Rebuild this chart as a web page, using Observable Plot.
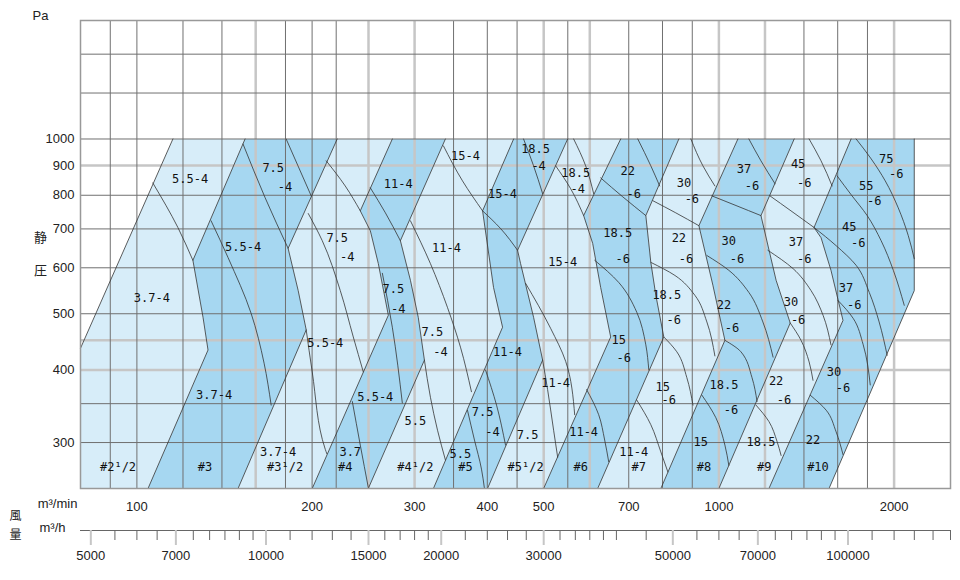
<!DOCTYPE html>
<html><head><meta charset="utf-8">
<script src="https://cdn.jsdelivr.net/npm/d3@7"></script>
<script src="https://cdn.jsdelivr.net/npm/@observablehq/plot@0.6"></script>
<style>body{margin:0;background:#fff;}</style>
</head><body><div id="chart"></div>
<script>
// Fan sizes (bands, left to right) and their shade
const fanSizes = ["#2½","#3","#3½","#4","#4½","#5","#5½","#6","#7","#8","#9","#10"];
const bandShade = ["light","dark","light","dark","light","dark","light","dark","light","dark","light","dark"];

// Band boundaries: [airflow m3/min, static pressure Pa], bottom -> top
const boundaries = [
  [[80,250],[80,436],[115.3,1000]],
  [[104.5,250],[132.5,433],[129.9,493],[124.8,618],[153.4,1000]],
  [[149.2,250],[195.4,469],[189.3,548],[181.9,648],[220.9,1000]],
  [[200.1,250],[270.4,497],[259.9,610],[251.8,695],[242,752],[274.7,1000]],
  [[249.8,250],[311.9,416],[304.4,493],[295.1,571],[283.6,668],[338.9,1000]],
  [[323.2,250],[424.9,474],[410,555],[392.6,752],[443.9,1000]],
  [[400.4,250],[497.9,416],[480.4,493],[456.3,610],[450.9,643],[549.7,1000]],
  [[499.9,250],[651.7,456],[626.4,555],[606.9,661],[585.6,738],[678,1000]],
  [[619,250],[804.2,456],[779.2,538],[763.9,613],[748.9,738],[853.5,1000]],
  [[794.8,250],[1024,450],[976.5,560],[923.9,709],[1078,1000]],
  [[1000,250],[1326,482],[1254,571],[1181,738],[1347,1000]],
  [[1219,250],[1634,487],[1558,594],[1498,676],[1457,704],[1687,1000]],
  [[1546,250],[2166,548],[2166,1000]]
];

// Motor power curves inside the bands
const powerCurves = [
  // #2 1/2
  [[106.5,840],[117.6,704],[124.8,618]],
  // #3
  [[152.2,980],[166.1,792],[181.9,648]],
  [[134.1,723],[143.4,625],[157.1,501],[165.4,411],[170.1,348]],
  [[180.5,1000],[199.3,798]],
  // #3 1/2
  [[211.5,917],[228,830],[242,752]],
  [[197,744],[208.2,668],[223.6,548],[235.4,456],[244.9,397]],
  [[195.4,469],[200.1,397],[210.7,292],[212,287]],
  // #4
  [[251.8,824],[267.3,746],[283.6,668]],
  [[264.1,587],[274.7,474],[285.8,351]],
  [[234.5,353],[242,297],[249.8,251]],
  // #4 1/2
  [[336.3,973],[362.6,847],[392.6,752]],
  [[295.1,723],[319.4,610],[341.6,513],[359.7,438],[375.7,367]],
  [[311.9,416],[319.4,359],[328.5,315],[338.9,280]],
  // #5
  [[461.7,1000],[480.4,899],[497.9,805]],
  [[392.6,752],[421.6,701],[450.9,643]],
  [[397.2,400],[414.9,348],[429.9,297]],
  [[369.8,341],[380.2,303],[390.9,270],[395.5,250]],
  // #5 1/2
  [[562.9,1000],[590.3,899],[609.3,805]],
  [[524.2,899],[556.3,821],[585.6,738]],
  [[465.5,564],[513.8,472],[545.4,414],[565.2,335]],
  [[497.9,416],[507.8,370],[520,315],[528.4,283]],
  // #6
  [[725.5,1000],[763.9,899],[791.2,830]],
  [[626.4,857],[683.6,795],[748.9,738]],
  [[611.8,618],[672.9,566],[722.6,503],[748.9,442],[757.8,400]],
  [[592.6,370],[621.5,335],[636.4,303],[646.6,278]],
  // #7
  [[895,1000],[938.7,899],[984.3,830]],
  [[769.9,783],[843.3,746],[923.9,709]],
  [[763.9,613],[840.4,582],[909.3,538],[953.5,484],[984.3,423]],
  [[804.2,456],[846.6,430],[880.9,388],[902.6,348]],
  [[722.6,355],[763.9,322],[794.8,289],[817.1,267]],
  // #8
  [[1126,1000],[1181,917],[1249,837]],
  [[972.7,798],[1070,768],[1181,738]],
  [[953.5,630],[1040,594],[1126,544],[1190,484],[1239,421]],
  [[1024,450],[1091,430],[1140,388],[1163,353]],
  [[934.9,362],[988.1,331],[1024,297],[1040,274]],
  // #9
  [[1429,1000],[1498,917],[1565,830]],
  [[1224,798],[1330,752],[1457,704]],
  [[1214,643],[1341,598],[1440,548],[1510,497],[1558,442]],
  [[1326,482],[1384,450],[1429,413],[1451,384]],
  [[1158,348],[1219,326],[1259,301],[1279,285]],
  // #10
  [[1721,1000],[1827,924],[1931,847],[2033,761],[2115,682],[2166,622]],
  [[1596,864],[1687,802],[1798,738],[1900,668],[1994,594],[2082,517]],
  [[1457,704],[1590,655],[1721,606],[1813,544],[1885,484],[1946,424]],
  [[1602,527],[1701,491],[1770,442],[1820,377]],
  [[1435,362],[1529,341],[1590,313],[1634,286]]
];

// Region labels: [text, airflow, pressure]
const labels = [
  ["5.5-4",123.4,854],["3.7-4",106.1,531],["#2¹/2",92.8,272],
  ["7.5",171.5,892],["-4",179.7,827],["5.5-4",152.2,650],["3.7-4",135.7,362],["#3",130.9,272],
  ["7.5",220.9,674],["-4",229.8,625],["5.5-4",210.7,445],["3.7-4",174.8,289],["#3¹/2",179.7,272],
  ["11-4",281.3,837],["7.5",275.8,551],["-4",281.3,509],["5.5-4",256.8,359],["3.7",232.6,289],["#4",228,272],
  ["15-4",366.9,935],["11-4",340.3,648],["7.5",321.9,465],["-4",332.3,430],["5.5",301,326],["#4¹/2",301,272],
  ["18.5",484.2,961],["-4",490,899],["15-4",424.9,805],["11-4",433.4,430],["7.5",392.6,339],["-4",408.3,313],["5.5",359.7,286],["#5",366.9,272],
  ["18.5",567.5,874],["-4",572,821],["15-4",539,613],["11-4",524.2,380],["7.5",469.2,309],["#5¹/2",465.5,272],
  ["22",697.1,881],["-6",714,805],["18.5",670,687],["-6",683.6,622],["15",672.9,450],["-6",686.3,419],["11-4",585.6,312],["#6",578.8,272],
  ["30",870.6,840],["-6",898.5,789],["22",853.5,676],["-6",877.5,620],["18.5",813.9,538],["-6",836.7,487],["15",801,374],["-6",820.3,355],["11-4",714,289],["#7",728.3,272],
  ["37",1104,888],["-6",1140,830],["30",1040,668],["-6",1074,622],["22",1020,517],["-6",1053,472],["18.5",1020,377],["-6",1049,341],["15",931,300],["#8",942.4,272],
  ["45",1368,906],["-6",1401,840],["37",1357,663],["-6",1401,622],["30",1330,523],["-6",1368,487],["22",1254,382],["-6",1294,355],["18.5",1181,300],["#9",1196,272],
  ["75",1939,924],["-6",2017,871],["55",1791,830],["-6",1849,783],["45",1675,704],["-6",1735,661],["37",1654,553],["-6",1708,517],["30",1577,397],["-6",1634,372],["22",1451,303],["#10",1480,272]
];

// Axes and grid
const pressureTicks = [300,400,500,600,700,800,900,1000];
const gridXDark = [90,100,120,140,180,200,220,350,400,450,550,700,800,900,1400,1600,1800];
const gridXGrey = [160,250,300,500,600,1000,1200,2000];
const gridYDark = [300,350,500,600,700,800,1000,1200,1400];
const gridYGrey = [400,450,900];
const perMinTicks = [100,200,300,400,500,700,1000,2000];
const perHourMajor = [5000,7000,10000,15000,20000,30000,50000,70000,100000];
const perHourMinor = [5500,6000,6500,7500,8000,8500,9000,9500,11000,12000,13000,14000,16000,17000,18000,19000,22000,24000,26000,28000,32000,34000,36000,38000,40000,45000,55000,60000,65000,75000,80000,85000,90000,95000,110000,120000,130000,140000,150000];

const lightFill = "#d7edf9", darkFill = "#a6d7f1";

const bandRows = [];
fanSizes.forEach((f, i) => {
  const pts = [...boundaries[i], ...boundaries[i + 1].slice().reverse()];
  pts.forEach(([Q, P]) => bandRows.push({band: f, shade: bandShade[i], Q, P}));
});
const boundaryRows = [];
boundaries.forEach((b, i) => b.forEach(([Q, P]) => boundaryRows.push({id: i, Q, P})));
const curveRows = [];
powerCurves.forEach((c, i) => c.forEach(([Q, P]) => curveRows.push({id: i, Q, P})));
const labelRows = labels.map(([t, Q, P]) => ({t, Q, P}));
const cjk = "'Noto Sans CJK JP', sans-serif";
const side = {textAnchor: "middle", fontSize: 13, fill: "#222"};

const chart = Plot.plot({
  width: 960, height: 580,
  marginLeft: 80, marginRight: 10, marginTop: 20, marginBottom: 92,
  x: {type: "log", domain: [80, 2500]},
  y: {type: "log", domain: [250, 1600]},
  style: {fontFamily: "'Liberation Sans', Arial, sans-serif", fontSize: "13px", background: "#fff", color: "#222"},
  marks: [
    Plot.line(bandRows.filter(d => d.shade === "light"), {x: "Q", y: "P", z: "band", fill: lightFill, stroke: "none", curve: "linear-closed"}),
    Plot.line(bandRows.filter(d => d.shade === "dark"), {x: "Q", y: "P", z: "band", fill: darkFill, stroke: "none", curve: "linear-closed"}),
    Plot.ruleX(gridXGrey, {stroke: "#c6c6c6", strokeWidth: 2.5}),
    Plot.ruleY(gridYGrey, {stroke: "#c6c6c6", strokeWidth: 2.5}),
    Plot.ruleX(gridXDark, {stroke: "#707070", strokeWidth: 1}),
    Plot.ruleY(gridYDark, {stroke: "#707070", strokeWidth: 1}),
    Plot.line(boundaryRows.filter(d => d.id > 0), {x: "Q", y: "P", z: "id", stroke: "#333", strokeWidth: 0.8}),
    Plot.line(boundaryRows.filter(d => d.id === 0 && d.P > 430), {x: "Q", y: "P", stroke: "#333", strokeWidth: 0.8}),
    Plot.line(curveRows, {x: "Q", y: "P", z: "id", stroke: "#333", strokeWidth: 0.8, curve: "monotone-y"}),
    Plot.frame({stroke: "#999", strokeWidth: 1.5}),
    Plot.text(labelRows, {x: "Q", y: "P", text: "t", fontFamily: "'DejaVu Sans Mono', monospace", fontSize: 12, fill: "#111"}),
    Plot.axisY(pressureTicks, {tickSize: 0, tickPadding: 6, label: null, fontSize: 13, tickFormat: d => String(d)}),
    Plot.axisX(perMinTicks, {tickSize: 0, tickPadding: 13, label: null, fontSize: 13, tickFormat: d => String(d)}),
    Plot.ruleY([250], {dy: 42, stroke: "#666"}),
    Plot.axisX(perHourMinor.map(d => d / 60), {dy: 42, tickSize: 10, stroke: "#666", fill: "none", label: null}),
    Plot.axisX(perHourMajor.map(d => d / 60), {dy: 42, tickSize: 15, stroke: "#c6c6c6", strokeWidth: 2, tickPadding: 5, label: null, fontSize: 13, tickFormat: d => String(Math.round(d * 60))}),
    Plot.text(["Pa"], {...side, frameAnchor: "top-left", dx: -40, dy: -10}),
    Plot.text(["静"], {...side, frameAnchor: "left", dx: -40, dy: -17, fontFamily: cjk}),
    Plot.text(["圧"], {...side, frameAnchor: "left", dx: -40, dy: 16, fontFamily: cjk}),
    Plot.text(["m³/min"], {...side, frameAnchor: "bottom-left", dx: -23, dy: 19}),
    Plot.text(["m³/h"], {...side, frameAnchor: "bottom-left", dx: -28, dy: 43}),
    Plot.text(["風"], {...side, frameAnchor: "bottom-left", dx: -65, dy: 31, fontSize: 12, fontFamily: cjk}),
    Plot.text(["量"], {...side, frameAnchor: "bottom-left", dx: -65, dy: 50, fontSize: 12, fontFamily: cjk})
  ]
});
document.getElementById("chart").appendChild(chart);
</script>
</body></html>
